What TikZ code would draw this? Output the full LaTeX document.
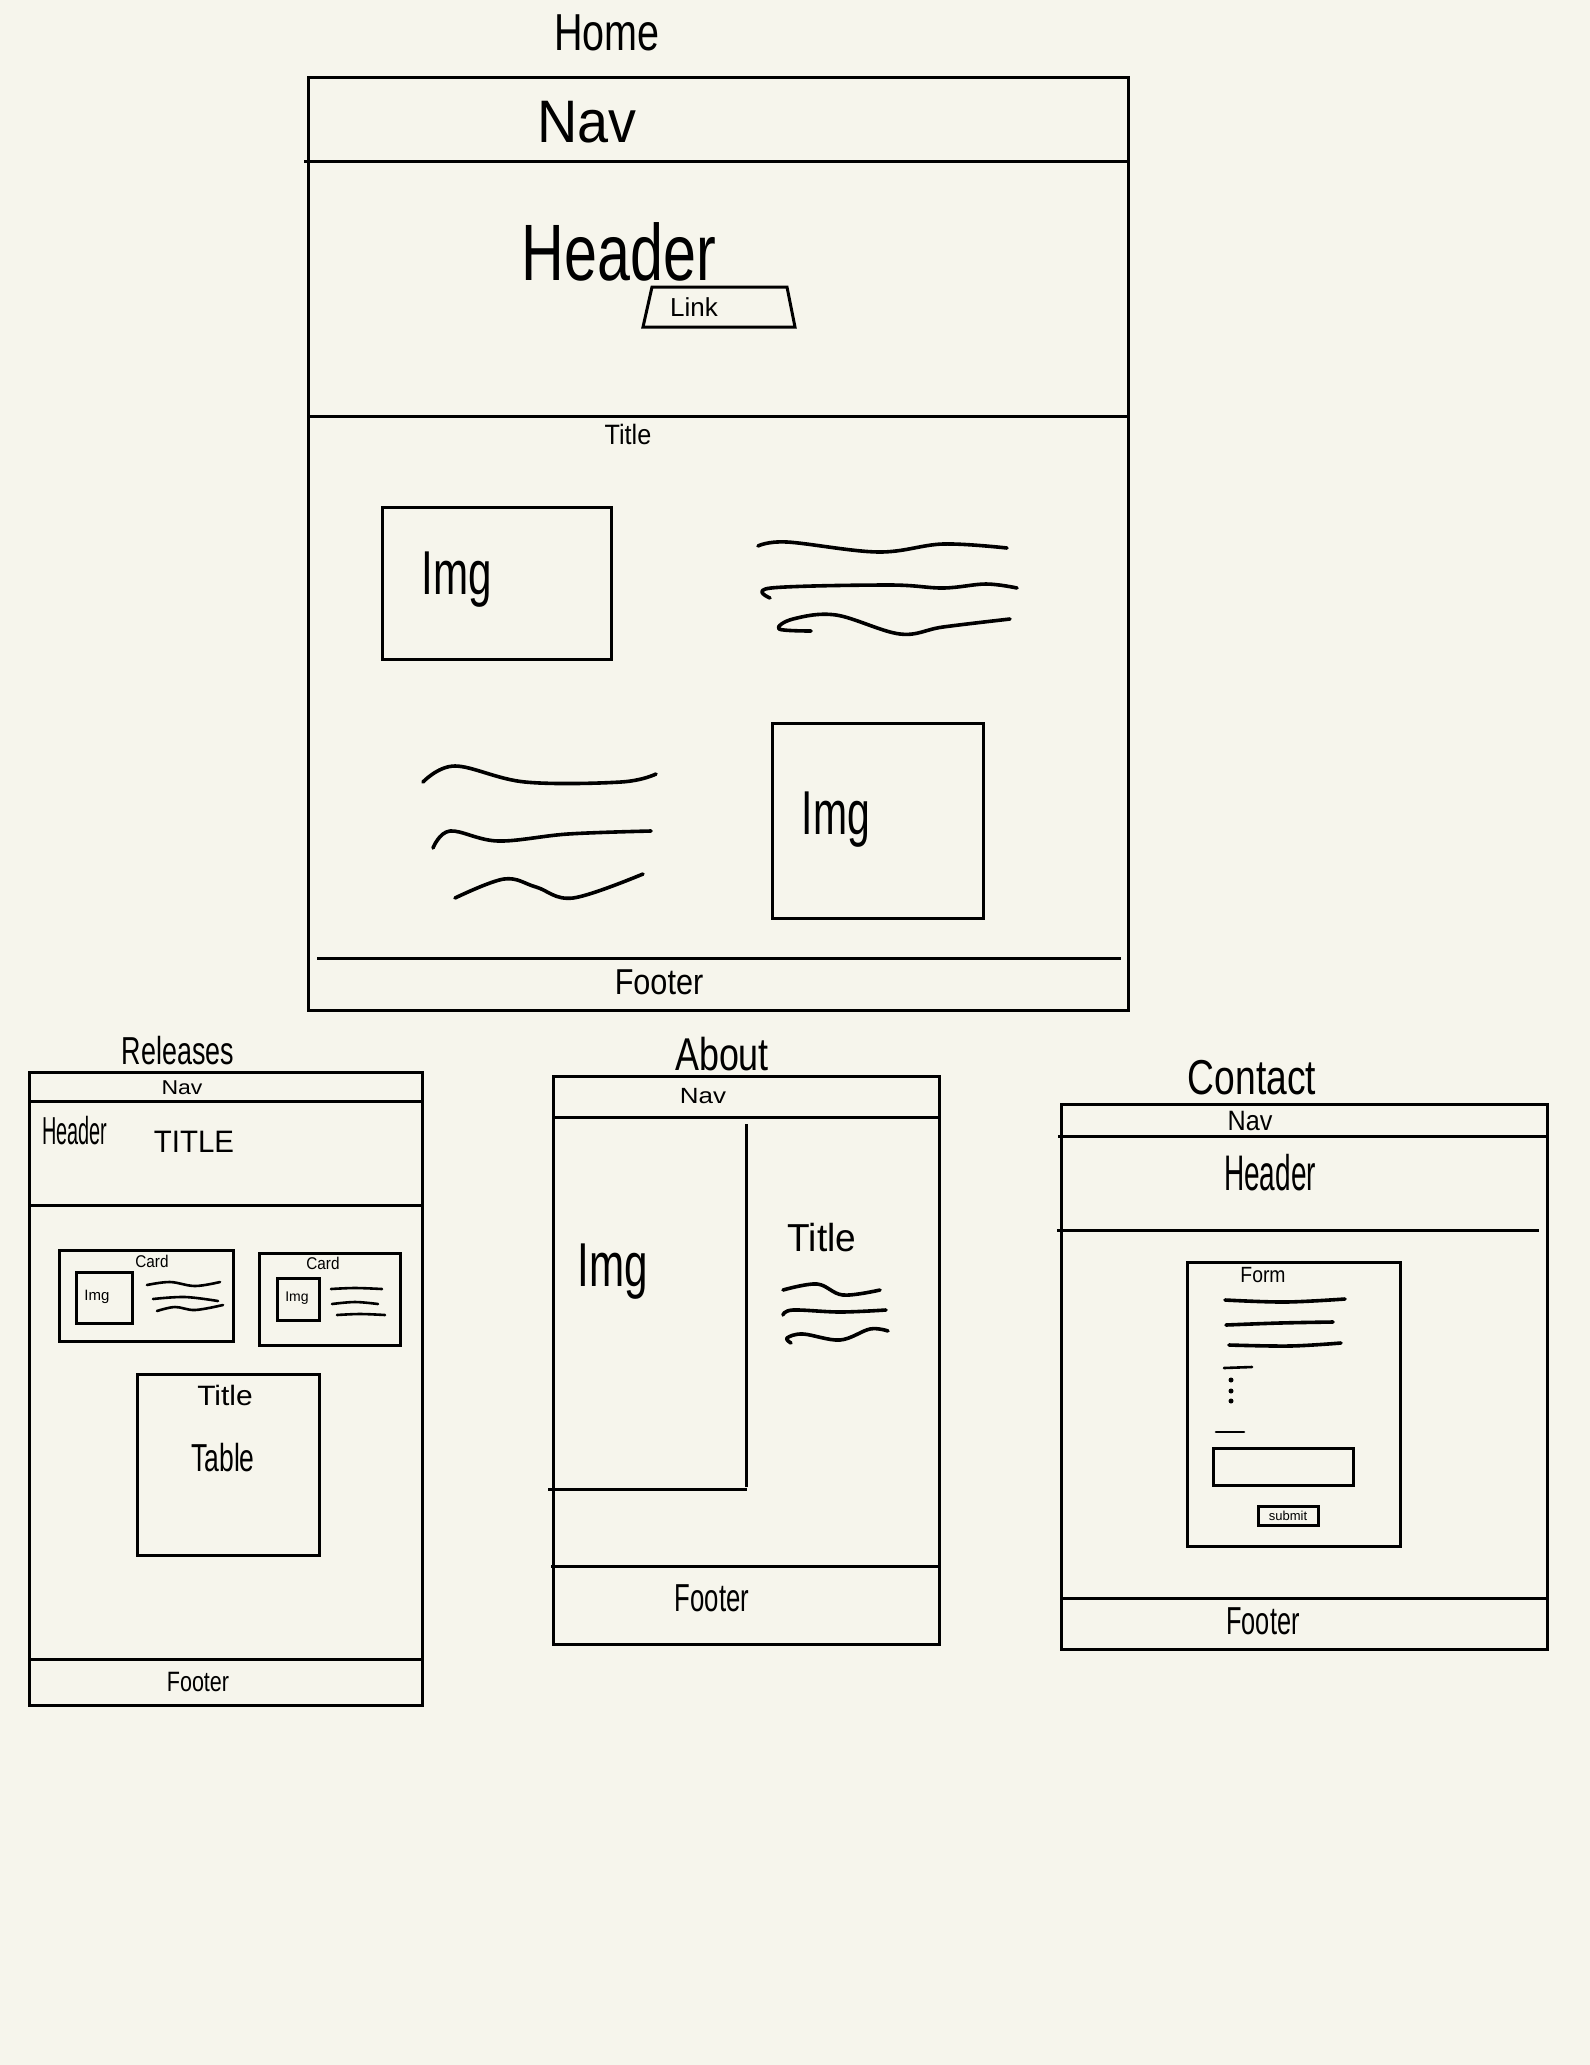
\documentclass[tikz,border=0pt]{standalone}
\usepackage{fontspec}
\setmainfont{Liberation Sans}
\newfontfamily\handfont{Liberation Sans}
\definecolor{paper}{HTML}{F6F5EC}
\newcommand{\fs}[1]{\fontsize{#1}{#1}\selectfont}
\tikzset{
  frame/.style={line width=3pt, line join=miter},
  rule/.style={line width=3pt},
  scribble/.style={line width=3.6pt, line cap=round, line join=round},
  thinscribble/.style={line width=2.6pt, line cap=round, line join=round},
  lbl/.style={inner sep=0pt, font=\handfont},
}
\begin{document}
\begin{tikzpicture}[x=1pt, y=-1pt]
  % paper
  \fill[paper] (0,0) rectangle (1590,2065);
  \useasboundingbox (0,0) rectangle (1590,2065);

  % ---------------- Home ----------------
  \node[lbl, xscale=0.76] (homeTitle) at (607,33) {\fs{52}Home};
  \draw[frame] (308,77) rectangle (1128,1010);
  \draw[rule] (304,161) -- (1128,161);
  \draw[rule] (308,416) -- (1128,416);
  \draw[rule] (317,958) -- (1121,958);
  \node[lbl, xscale=0.93] (homeNav) at (587,122) {\fs{60}Nav};
  \node[lbl, xscale=0.74] (homeHeader) at (619,252) {\fs{80}Header};
  \draw[frame] (652,287) -- (787,287) -- (795,327) -- (643,327) -- cycle;
  \node[lbl] (homeLink) at (694,307) {\fs{26}Link};
  \node[lbl, xscale=0.9] (homeSection) at (628,434) {\fs{28}Title};
  \draw[frame] (382,507) rectangle (611,659);
  \node[lbl, xscale=0.68] (homeImgA) at (457,580) {\fs{62}Img};
  \draw[scribble] plot[smooth, tension=0.6] coordinates {(758,546) (787,542) (878,552) (943,544) (1007,548)};
  \draw[scribble] plot[smooth, tension=0.6] coordinates {(770,598) (771,588) (889,585) (943,588) (986,584) (1017,588)};
  \draw[scribble] plot[smooth, tension=0.6] coordinates {(811,631) (779,629) (793,619) (836,615) (900,634) (943,627) (1010,619)};
  \draw[scribble] plot[smooth, tension=0.6] coordinates {(423,782) (455,766) (525,782) (621,782) (656,774)};
  \draw[scribble] plot[smooth, tension=0.6] coordinates {(433,848) (450,831) (498,841) (568,834) (651,831)};
  \draw[scribble] plot[smooth, tension=0.6] coordinates {(455,898) (504,879) (536,887) (573,898) (643,874)};
  \draw[frame] (772,723) rectangle (983,918);
  \node[lbl, xscale=0.66] (homeImgB) at (836,820) {\fs{62}Img};
  \node[lbl, xscale=0.85] (homeFooter) at (659,982) {\fs{36}Footer};

  % ---------------- Releases ----------------
  \node[lbl, xscale=0.69] (relTitle) at (178,1051) {\fs{39}Releases};
  \draw[frame] (29,1072) rectangle (422,1705);
  \draw[rule] (29,1101) -- (422,1101);
  \draw[rule] (29,1205) -- (422,1205);
  \draw[rule] (29,1659) -- (422,1659);
  \node[lbl, xscale=1.15] (relNav) at (182,1088) {\fs{20}Nav};
  \node[lbl, xscale=0.51] (relHeader) at (75,1131) {\fs{39}Header};
  \node[lbl, xscale=0.95] (relBanner) at (194,1142) {\fs{31}TITLE};
  % cards
  \draw[frame] (59,1250) rectangle (233,1341);
  \node[lbl, xscale=0.9] (relCardA) at (152,1261) {\fs{17}Card};
  \draw[frame] (76,1272) rectangle (132,1323);
  \node[lbl] (relImgA) at (97,1297) {\fs{15}Img};
  \draw[thinscribble] plot[smooth, tension=0.6] coordinates {(147,1285) (170,1282) (195,1286) (220,1282)};
  \draw[thinscribble] plot[smooth, tension=0.6] coordinates {(153,1299) (185,1297) (218,1301)};
  \draw[thinscribble] plot[smooth, tension=0.6] coordinates {(157,1311) (175,1307) (195,1310) (223,1305)};
  \draw[frame] (259,1253) rectangle (400,1345);
  \node[lbl, xscale=0.9] (relCardB) at (323,1263) {\fs{17}Card};
  \draw[frame] (277,1278) rectangle (319,1320);
  \node[lbl] (relImgB) at (297,1298) {\fs{14}Img};
  \draw[thinscribble] plot[smooth, tension=0.6] coordinates {(331,1289) (355,1288) (382,1289)};
  \draw[thinscribble] plot[smooth, tension=0.6] coordinates {(332,1304) (355,1302) (378,1304)};
  \draw[thinscribble] plot[smooth, tension=0.6] coordinates {(337,1315) (360,1314) (385,1315)};
  % table
  \draw[frame] (137,1374) rectangle (319,1555);
  \node[lbl, xscale=1.07] (relTableTitle) at (225,1395) {\fs{28}Title};
  \node[lbl, xscale=0.68] (relTable) at (223,1458) {\fs{39}Table};
  \node[lbl, xscale=0.77] (relFooter) at (198,1682) {\fs{28}Footer};

  % ---------------- About ----------------
  \node[lbl, xscale=0.78] (aboutTitle) at (722,1054) {\fs{46}About};
  \draw[frame] (553,1076) rectangle (939,1644);
  \draw[rule] (553,1117) -- (939,1117);
  \draw[rule] (746,1124) -- (746,1487);
  \draw[rule] (548,1489) -- (747,1489);
  \draw[rule] (551,1566) -- (940,1566);
  \node[lbl, xscale=1.18] (aboutNav) at (703,1096) {\fs{22}Nav};
  \node[lbl, xscale=0.68] (aboutImg) at (613,1272) {\fs{62}Img};
  \node[lbl, xscale=0.95] (aboutHeading) at (822,1238) {\fs{39}Title};
  \draw[scribble] plot[smooth, tension=0.6] coordinates {(783,1290) (817,1284) (843,1295) (880,1290)};
  \draw[scribble] plot[smooth, tension=0.6] coordinates {(783,1315) (793,1310) (840,1312) (886,1310)};
  \draw[scribble] plot[smooth, tension=0.6] coordinates {(791,1343) (787,1338) (803,1334) (840,1340) (870,1329) (888,1331)};
  \node[lbl, xscale=0.66] (aboutFooter) at (712,1598) {\fs{39}Footer};

  % ---------------- Contact ----------------
  \node[lbl, xscale=0.76] (contactTitle) at (1252,1078) {\fs{49}Contact};
  \draw[frame] (1061,1104) rectangle (1547,1649);
  \draw[rule] (1058,1136) -- (1547,1136);
  \draw[rule] (1057,1230) -- (1539,1230);
  \draw[rule] (1061,1598) -- (1547,1598);
  \node[lbl, xscale=0.9] (contactNav) at (1250,1121) {\fs{28}Nav};
  \node[lbl, xscale=0.56] (contactHeader) at (1270,1173) {\fs{50}Header};
  % form
  \draw[frame] (1187,1262) rectangle (1400,1546);
  \node[lbl, xscale=0.88] (contactForm) at (1263,1275) {\fs{22}Form};
  \draw[scribble] plot[smooth, tension=0.6] coordinates {(1225,1300) (1285,1302) (1345,1299)};
  \draw[scribble] plot[smooth, tension=0.6] coordinates {(1226,1325) (1280,1323) (1333,1322)};
  \draw[scribble] plot[smooth, tension=0.6] coordinates {(1229,1345) (1290,1346) (1341,1343)};
  \draw[thinscribble] (1224,1368) -- (1252,1367);
  \fill (1231,1380) circle (2.5) (1231,1391) circle (2.5) (1231,1401) circle (2.5);
  \draw[thinscribble] (1216,1432) -- (1244,1432);
  \draw[frame] (1213,1448) rectangle (1353,1485);
  \draw[frame] (1258,1506) rectangle (1318,1525);
  \node[lbl] (contactSubmit) at (1288,1516) {\fs{13}submit};
  \node[lbl, xscale=0.65] (contactFooter) at (1263,1621) {\fs{39}Footer};
\end{tikzpicture}
\end{document}
